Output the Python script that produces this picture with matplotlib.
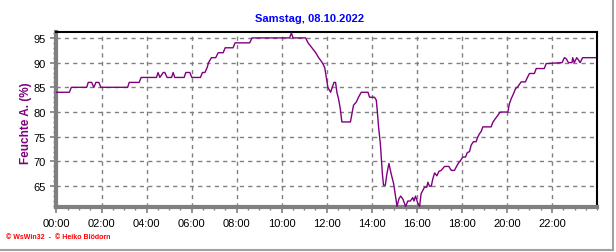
import matplotlib
matplotlib.use("Agg")
import matplotlib.pyplot as plt
from matplotlib.lines import Line2D
from matplotlib.ticker import MultipleLocator

# Zeit in Stunden, relative Feuchte in %
hours = [0.00, 0.57, 0.66, 1.34, 1.41, 1.56, 1.66, 1.75, 1.88, 1.97, 3.16, 3.23, 3.67, 3.76,
         4.44, 4.51, 4.59, 4.74, 4.81, 4.91, 5.11, 5.18, 5.25, 5.67, 5.74, 5.92, 6.01, 6.39,
         6.48, 6.59, 6.69, 6.75, 6.88, 7.07, 7.18, 7.40, 7.49, 7.84, 7.93, 8.58, 8.68, 10.35,
         10.43, 10.50, 11.06, 11.17, 11.34, 11.51, 11.64, 11.80, 11.91, 11.98, 12.05, 12.17,
         12.32, 12.39, 12.45, 12.53, 12.60, 12.67, 13.05, 13.12, 13.19, 13.31, 13.41, 13.53,
         13.83, 13.90, 14.12, 14.20, 14.24, 14.30, 14.38, 14.43, 14.47, 14.52, 14.60, 14.67,
         14.76, 14.86, 14.97, 15.06, 15.12, 15.20, 15.28, 15.38, 15.50, 15.60, 15.71, 15.82,
         15.87, 15.94, 16.04, 16.12, 16.19, 16.27, 16.34, 16.44, 16.49, 16.56, 16.64, 16.71,
         16.79, 16.89, 16.98, 17.08, 17.23, 17.42, 17.53, 17.67, 17.75, 17.85, 17.94, 18.04,
         18.16, 18.24, 18.34, 18.41, 18.51, 18.63, 18.71, 18.78, 18.86, 18.93, 19.30, 19.37,
         19.49, 19.59, 19.70, 20.04, 20.11, 20.19, 20.29, 20.38, 20.48, 20.63, 20.82, 20.92,
         21.00, 21.22, 21.30, 21.66, 21.74, 22.45, 22.55, 22.63, 22.73, 22.89, 22.92, 22.99,
         23.10, 23.18, 23.25, 23.36, 23.92]
humidity = [84, 84, 85, 85, 86, 86, 85, 86, 86, 85, 85, 86, 86, 87,
            87, 88, 87, 88, 88, 87, 87, 88, 87, 87, 88, 88, 87, 87,
            88, 88, 89, 90, 91, 91, 92, 92, 93, 93, 94, 94, 95, 95,
            96, 95, 95, 94, 93, 92, 91, 90, 89, 87, 85, 84,
            86, 86, 84, 82.5, 80.7, 78, 78, 79.7, 81.4, 82, 83, 84,
            84, 83, 83, 82.4, 80.4, 77, 73.6, 70.2, 67.5, 65.2, 65.2, 67.5,
            69.6, 67.5, 65.5, 62.8, 60.9, 62.4, 63, 62.4, 60.9, 62, 62, 62.7,
            62, 63, 61.6, 60.9, 63.5, 64.2, 64.8, 64.8, 65.8, 65, 65, 66.5,
            67.7, 67.1, 68, 68.2, 69, 69, 68.2, 68.2, 68.9, 69.7, 70.2, 70.9,
            70.9, 71.8, 72, 73.3, 74, 74, 75, 75.6, 76.1, 77, 77, 77.9,
            78.7, 79.3, 80, 80, 81.7, 82.7, 83.7, 84.7, 85.1, 86.1, 86.1, 87.1,
            87.8, 87.8, 88.8, 88.8, 89.8, 90, 91, 90.8, 90, 90, 91, 90,
            91, 90.5, 90, 91, 91]

xtick_hours = [0, 2, 4, 6, 8, 10, 12, 14, 16, 18, 20, 22]
xtick_labels = ["00:00", "02:00", "04:00", "06:00", "08:00", "10:00",
                "12:00", "14:00", "16:00", "18:00", "20:00", "22:00"]
ytick_values = [65, 70, 75, 80, 85, 90, 95]

plt.rcParams['font.family'] = ['Liberation Sans', 'DejaVu Sans']

fig = plt.figure(figsize=(6.16, 2.53), dpi=100)
ax = fig.add_axes([0.0917, 0.178, 0.8775, 0.6917])

ax.plot(hours, humidity, c="#800080", lw=1.0, zorder=3)

ax.set_xlim(0, 24)
ax.set_ylim(60.8, 96.2)
ax.set_xticks(xtick_hours)
ax.set_xticklabels(xtick_labels)
ax.set_yticks(ytick_values)
ax.xaxis.set_minor_locator(MultipleLocator(0.5))
ax.yaxis.set_minor_locator(MultipleLocator(1))
ax.tick_params(axis="both", which="major", labelsize=8, color="#808080", length=4, width=1.2, pad=4)
ax.tick_params(axis="both", which="minor", color="#808080", length=2.5, width=1)

ax.grid(True, which="major", color="#808080", ls=(0, (3, 3)), lw=1)

for side in ["left", "bottom"]:
    ax.spines[side].set_color("#808080")
    ax.spines[side].set_linewidth(3)
for side in ["top", "right"]:
    ax.spines[side].set_color("black")
    ax.spines[side].set_linewidth(1.5)

fig.text(0.502, 0.925, "Samstag, 08.10.2022", color="#0000FF", fontsize=8,
         fontweight="bold", ha="center", va="center")
fig.text(0.042, 0.514, "Feuchte A. (%)", color="#800080", fontsize=8.5,
         fontweight="bold", rotation=90, ha="center", va="center")
fig.text(0.01, 0.06, "\u00a9 WsWin32  -  \u00a9 Heiko Blödorn", color="red",
         fontsize=5, fontweight="bold", ha="left", va="center")

# grauer Rahmen rechts und unten
fig.add_artist(Line2D([0.995, 0.995], [0.006, 1.0], transform=fig.transFigure, color="#a0a0a0", lw=1.5))
fig.add_artist(Line2D([0.0, 0.995], [0.006, 0.006], transform=fig.transFigure, color="#a0a0a0", lw=1.5))

fig.savefig("out.png", dpi=100)
